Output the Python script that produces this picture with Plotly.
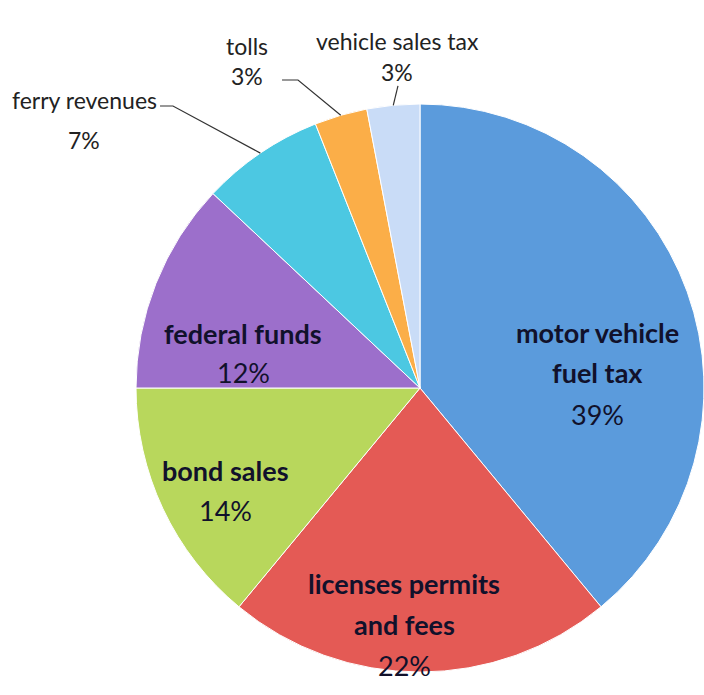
import math
import plotly.graph_objects as go

labels = ["motor vehicle fuel tax", "licenses permits and fees", "bond sales",
          "federal funds", "ferry revenues", "tolls", "vehicle sales tax"]
label_lines = [["motor vehicle", "fuel tax"], ["licenses permits", "and fees"], ["bond sales"],
               ["federal funds"], ["ferry revenues"], ["tolls"], ["vehicle sales tax"]]
values = [39, 22, 14, 12, 7, 3, 3]

colors = ["#5B9BDC", "#E45A55", "#B8D75C", "#9C6FCB", "#4CC8E2", "#FBAE48", "#C9DCF7"]

W, H = 704, 695
cx_px, cy_px, r_px = 420, 388, 284

# label style: (center x px, first-line y px, line spacing px, font size, bold names, inside)
label_style = {
    "motor vehicle fuel tax": (597, 332, 41, 27, True, True),
    "licenses permits and fees": (404, 583, 41, 27, True, True),
    "bond sales": (225, 470, 40, 27, True, True),
    "federal funds": (243, 333, 39, 27, True, True),
    "ferry revenues": (84, 100, 40, 23, False, False),
    "tolls": (247, 46, 30, 23, False, False),
    "vehicle sales tax": (397, 41, 31, 23, False, False),
}
# leader line start points (px) for outside labels
leader_start = {
    "ferry revenues": [(160, 106), (173, 106)],
    "tolls": [(282, 80), (298, 80)],
    "vehicle sales tax": [(398, 86)],
}

dom_x = [(cx_px - r_px) / W, min(1.0, (cx_px + r_px) / W)]
dom_y = [(H - cy_px - r_px - 10) / H, (H - cy_px + r_px + 10) / H]

fig = go.Figure(go.Pie(
    labels=labels, values=values, sort=False, direction="clockwise", rotation=0,
    marker=dict(colors=colors, line=dict(color="white", width=1)),
    textinfo="none", hoverinfo="label+percent", showlegend=False,
    domain=dict(x=dom_x, y=dom_y),
))

def to_paper(px, py):
    return px / W, 1 - py / H

total = sum(values)
cum = 0
for name, lines, v in zip(labels, label_lines, values):
    mid = (cum + v / 2) / total * 2 * math.pi
    cum += v
    x0, y0, dy, fs, bold, ins = label_style[name]
    all_lines = [f"<b>{t}</b>" if bold else t for t in lines] + [f"{v}%"]
    color = "#11112b" if ins else "#222222"
    for i, t in enumerate(all_lines):
        xp, yp = to_paper(x0, y0 + i * dy)
        fig.add_annotation(x=xp, y=yp, xref="paper", yref="paper", text=t,
                           showarrow=False, xanchor="center", yanchor="middle",
                           font=dict(family="Lato", size=fs, color=color))
    if not ins:
        ex = cx_px + r_px * math.sin(mid)
        ey = cy_px - r_px * math.cos(mid)
        pts = leader_start[name] + [(ex, ey)]
        path = "M " + " L ".join(f"{to_paper(a, b)[0]:.4f},{to_paper(a, b)[1]:.4f}" for a, b in pts)
        fig.add_shape(type="path", path=path, xref="paper", yref="paper",
                      line=dict(color="#333333", width=1.2))

fig.update_layout(width=W, height=H, margin=dict(l=0, r=0, t=0, b=0),
                  paper_bgcolor="white", plot_bgcolor="white")
fig.write_html("out.html", config={"displayModeBar": False},
               post_script="document.body.style.margin='0';")
